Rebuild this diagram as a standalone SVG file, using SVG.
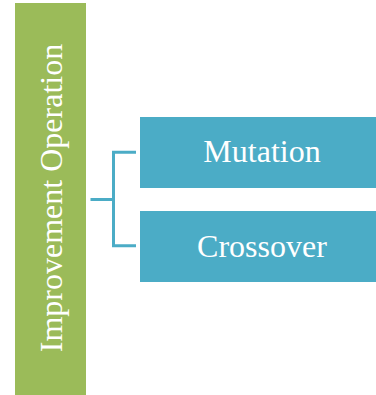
<svg xmlns="http://www.w3.org/2000/svg" width="376" height="395" viewBox="0 0 376 395">
<style>
.t{font-family:"Liberation Serif","Times New Roman",serif;font-size:32px;fill:#ffffff;text-anchor:middle}
.b{fill:#4BACC6}
.c{fill:none;stroke:#4BACC6;stroke-width:3}
</style>
<rect width="376" height="395" fill="#ffffff"/>
<g id="root">
<rect x="15" y="3" width="71" height="392" fill="#9BBB59"/>
<text class="t" transform="translate(62,198) rotate(-90)">Improvement Operation</text>
</g>
<g id="connectors">
<path class="c" d="M90.5,199.5 H113.5 M136,152.3 H113.5 V245.7 H136"/>
</g>
<g id="mutation">
<rect class="b" x="140" y="117" width="236" height="71"/>
<text class="t" x="262" y="161.5">Mutation</text>
</g>
<g id="crossover">
<rect class="b" x="140" y="211" width="236" height="71"/>
<text class="t" x="262" y="256.5">Crossover</text>
</g>
</svg>
